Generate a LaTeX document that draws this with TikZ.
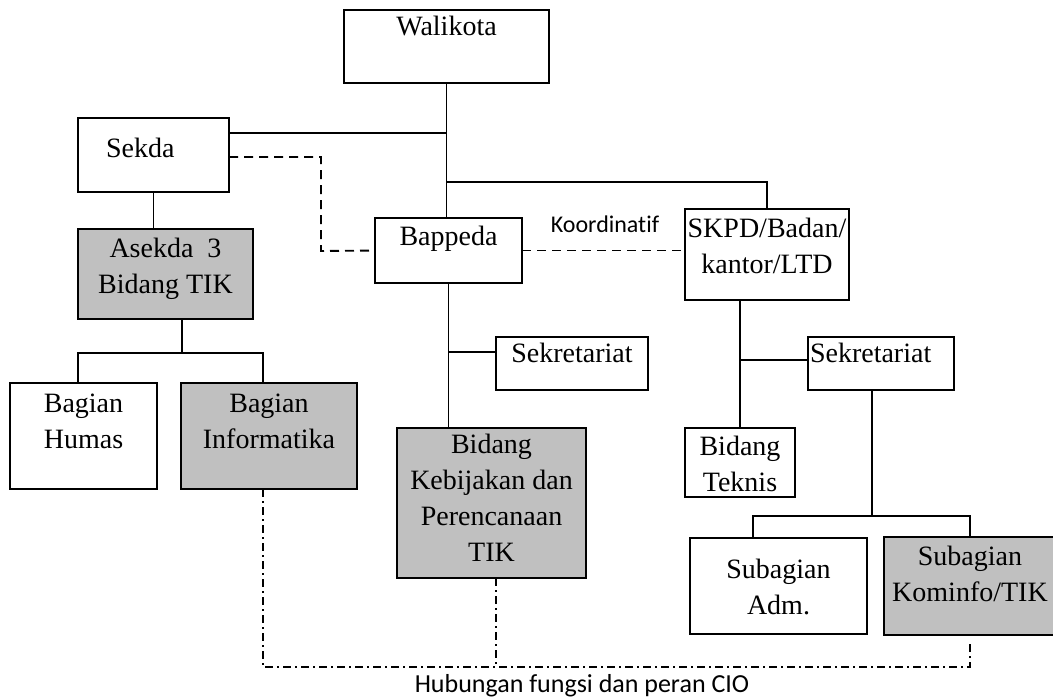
\documentclass[tikz,border=0pt]{standalone}
\usepackage{fontspec}
\setmainfont{Liberation Serif}
\newfontfamily\lblfont[Ligatures=NoCommon]{Carlito}
\usepackage{tikz}
\definecolor{tikc}{HTML}{C0C0C0}
\newcommand{\stk}[1]{\begin{tabular}[t]{@{}c@{}}#1\end{tabular}}
\tikzset{
  bx/.style={draw,line width=2pt,inner sep=0pt,outer sep=0pt,anchor=north west,font=\fontsize{28}{36}\selectfont},
  tk/.style={bx,fill=tikc},
  sz/.style n args={3}{minimum width=#1pt,text height=#2pt,text depth=#3pt},
  ln/.style={line width=1.9pt},
  dsh/.style={line width=1.9pt,dash pattern=on 9pt off 6pt},
  cio/.style={line width=1.9pt,dash pattern=on 8pt off 4pt on 2pt off 4pt},
  lb/.style={inner sep=0pt,anchor=base,font=\lblfont\fontsize{#1}{#1}\selectfont}
}

\begin{document}
\begin{tikzpicture}[x=1pt,y=-1pt]
\useasboundingbox (0,0) rectangle (1053,697);
\clip (0,0) rectangle (1053,697);
\node[bx,sz={205}{25}{48}] (wali) at (344,10) {Walikota};
\node[bx,sz={151}{39}{35}] (sekda) at (78,118) {\makebox[151pt][l]{\hspace*{28pt}Sekda}};
\node[tk,sz={175}{28}{62}] (asek) at (78,229) {\stk{Asekda\ \ 3\\Bidang TIK}};
\node[bx,sz={147}{27}{38}] (bapp) at (375,218) {Bappeda};
\node[bx,sz={164}{28}{63}] (skpd) at (685,209) {\stk{SKPD/Badan/\\kantor/LTD}};
\node[bx,sz={147}{29}{77}] (humas) at (10,383) {\stk{Bagian\\Humas}};
\node[tk,sz={176}{29}{77}] (info) at (181,383) {\stk{Bagian\\Informatika}};
\node[bx,sz={152}{25}{28}] (sek1) at (496,337) {Sekretariat};
\node[tk,sz={189}{25}{125}] (kebi) at (397,428) {\stk{Bidang\\Kebijakan dan\\Perencanaan\\TIK}};
\node[bx,sz={146}{25}{28}] (sek2) at (808,337) {\makebox[146pt][l]{\hspace*{2pt}Sekretariat}};
\node[bx,sz={110}{27}{42}] (tekn) at (685,428) {\stk{Bidang\\Teknis}};
\node[bx,sz={177}{40}{56}] (adm) at (690,538) {\stk{Subagian\\Adm.}};
\node[tk,sz={172}{28}{70}] (komi) at (884,537) {\stk{Subagian\\Kominfo/TIK}};
\node[lb=24] (koord) at (605,232) {Koordinat\kern0pt if};
\node[lb=26] (hub) at (582,692) {Hubungan fungsi dan peran CIO};
\coordinate (skpdfork) at (447,182);
\coordinate (sekdabend) at (321,251);
\coordinate (asekbar) at (182,353);
\coordinate (sekbar) at (872,516);
\coordinate (ciobar) at (496,667);
\draw[ln] (wali.south) -- (wali.south |- bapp.north);
\draw[ln] ([yshift=-15]sekda.north east) -- ([yshift=-15]sekda.north east -| wali.south);
\draw[ln] (skpdfork) -| (skpd.north);
\draw[ln] (sekda.south) -- (sekda.south |- asek.north);
\draw[ln] ([xshift=16.5]asek.south) -- (asekbar);
\draw[ln] ([xshift=-5.5]humas.north) |- (asekbar) -| ([xshift=-6]info.north);
\draw[ln] (bapp.south) -- (bapp.south |- kebi.north);
\draw[ln] ([yshift=-15]sek1.north west) -- ([yshift=-15]sek1.north west -| bapp.south);
\draw[ln] (tekn.north) -- (tekn.north |- skpd.south);
\draw[ln] ([yshift=-23]sek2.north west) -- ([yshift=-23]sek2.north west -| tekn.north);
\draw[ln] ([xshift=-9]sek2.south) -- (sekbar);
\draw[ln] ([xshift=-25.5]adm.north) |- (sekbar) -| (komi.north);
\draw[dsh] ([yshift=-39]sekda.north east) -| (sekdabend) -- (bapp.west);
\draw[dsh] (bapp.east) -- (bapp.east -| skpd.west);
\draw[cio] ([xshift=-6]info.south) |- (ciobar) -| ([yshift=-8]komi.south);
\draw[cio] ([xshift=4.5]kebi.south) -- (ciobar);
\end{tikzpicture}
\end{document}
